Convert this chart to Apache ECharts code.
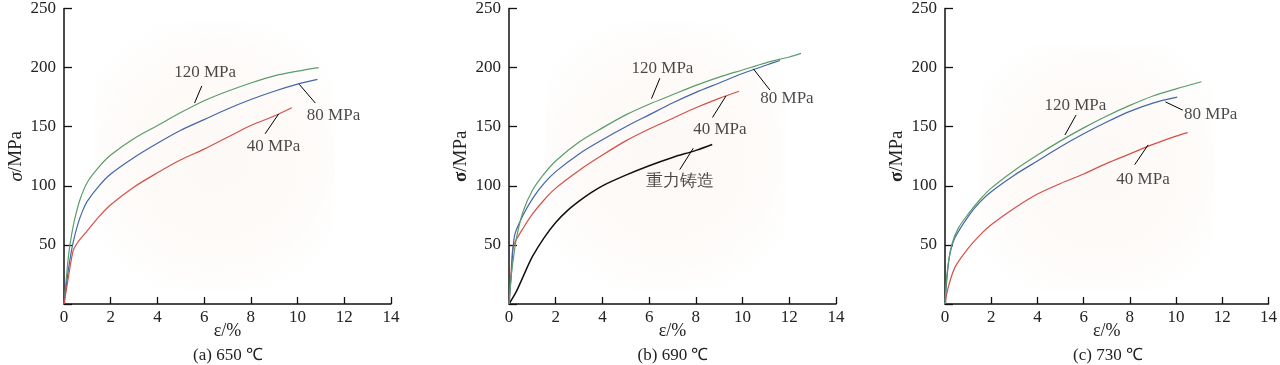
<!DOCTYPE html>
<html>
<head>
<meta charset="utf-8">
<script src="https://cdn.jsdelivr.net/npm/echarts@6/dist/echarts.min.js"></script>
<style>html,body{margin:0;padding:0;background:#fff;}#c{width:1280px;height:365px;}</style>
</head>
<body>
<div id="c"></div>
<script>
// ---- data (strain %, stress MPa) ----
const xTicks = [0, 2, 4, 6, 8, 10, 12, 14];
const yTicks = [0, 50, 100, 150, 200, 250];

// (a) 650 ℃
const a120x = [0, 0.1, 0.2, 0.32, 0.46, 0.68, 1.0, 1.5, 2, 3, 4, 5, 6, 7, 8, 9, 10, 10.9];
const a120y = [0, 22, 42, 58, 72, 88, 103, 116, 126, 140, 151, 162, 172, 180, 187, 193, 197, 200];
const a80x = [0, 0.1, 0.25, 0.39, 0.6, 0.8, 1.0, 1.5, 2, 3, 4, 5, 6, 7, 8, 9, 10, 10.85];
const a80y = [0, 16, 37, 52, 68, 79, 87, 100, 110, 124, 136, 147, 156, 165, 173, 180, 186, 190];
const a40x = [0, 0.1, 0.2, 0.39, 0.55, 0.7, 1.0, 1.5, 2, 3, 4, 5, 6, 7, 8, 9, 9.75];
const a40y = [0, 12, 24, 45, 51, 55, 62, 74, 84, 99, 111, 122, 131, 141, 151, 159, 166];

// (b) 690 ℃
const b120x = [0, 0.1, 0.17, 0.32, 0.6, 1.0, 1.5, 2, 3, 4, 5, 6, 7, 8, 9, 10, 11, 12, 12.5];
const b120y = [0, 25, 36, 56, 78, 96, 110, 121, 137, 149, 160, 169, 177, 185, 192, 198, 204, 209, 212];
const b80x = [0, 0.1, 0.24, 0.6, 1.0, 1.5, 2, 3, 4, 5, 6, 7, 8, 9, 10, 11, 11.6];
const b80y = [0, 25, 58, 75, 89, 102, 112, 127, 139, 150, 160, 170, 179, 187, 195, 202, 206];
const b40x = [0, 0.1, 0.17, 0.3, 0.6, 1.0, 1.5, 2, 3, 4, 5, 6, 7, 8, 9, 9.85];
const b40y = [0, 30, 48, 54, 64, 76, 88, 98, 113, 126, 138, 148, 157, 166, 174, 180];
const bGx = [0, 0.3, 0.6, 1.0, 1.5, 2, 2.5, 3, 3.5, 4, 5, 6, 7, 8, 8.7];
const bGy = [0, 10, 23, 40, 56, 69, 79, 87, 94, 100, 109, 117, 124, 130, 135];

// (c) 730 ℃
const c120x = [0, 0.1, 0.29, 0.57, 1.0, 1.5, 2, 3, 4, 5, 6, 7, 8, 9, 10, 11.1];
const c120y = [0, 28, 50, 64, 76, 88, 98, 113, 126, 138, 149, 159, 168, 176, 182, 188];
const c80x = [0, 0.1, 0.21, 0.43, 1.0, 1.5, 2, 3, 4, 5, 6, 7, 8, 9, 10.05];
const c80y = [0, 25, 42, 56, 74, 86, 95, 109, 121, 133, 144, 154, 163, 170, 175];
const c40x = [0, 0.14, 0.43, 1.0, 1.5, 2, 3, 4, 5, 6, 7, 8, 9, 10, 10.5];
const c40y = [0, 14, 31, 47, 58, 67, 81, 93, 102, 110, 119, 127, 135, 142, 145];

// annotation labels: [panel, text, x, y]
const noteText = [
  [0, '120 MPa', 6.04, 195.6], [0, '80 MPa', 11.54, 159.4], [0, '40 MPa', 8.97, 132.9],
  [1, '120 MPa', 6.57, 199.4], [1, '80 MPa', 11.9, 173.7], [1, '40 MPa', 9.03, 147.5], [1, '重力铸造', 7.34, 103.3],
  [2, '120 MPa', 5.64, 167.6], [2, '80 MPa', 11.5, 160], [2, '40 MPa', 8.57, 105]
];
// leader lines: [panel, x1, y1, x2, y2]
const noteLines = [
  [0, 5.9, 184.5, 5.59, 170], [0, 10.76, 170, 10.07, 185.9], [0, 8.61, 144, 9.19, 160.8],
  [1, 6.46, 191, 6.1, 173.7], [1, 11.17, 181, 10.46, 199], [1, 8.71, 157.8, 9.29, 176], [1, 7.31, 113.7, 7.89, 131.8],
  [2, 5.67, 159.8, 5.19, 143], [2, 10.29, 164, 9.54, 171], [2, 8.21, 117.9, 8.79, 134.6]
];
const captions = ['(a) 650 ℃', '(b) 690 ℃', '(c) 730 ℃'];

// ---- build ----
const FONT = '"Liberation Serif", "Times New Roman", serif';
const GREEN = '#5a9c6c', BLUE = '#4467a8', RED = '#d4504a', BLACK = '#111';
const grids = [
  {left: 64, top: 5, width: 327, height: 299},
  {left: 509, top: 5, width: 327, height: 299},
  {left: 945, top: 5, width: 327, height: 299}
];
const zip = (xs, ys) => xs.map((x, i) => [x, ys[i]]);
const curves = [
  [0, a120x, a120y, GREEN], [0, a80x, a80y, BLUE], [0, a40x, a40y, RED],
  [1, bGx, bGy, BLACK], [1, b40x, b40y, RED], [1, b80x, b80y, BLUE], [1, b120x, b120y, GREEN],
  [2, c40x, c40y, RED], [2, c80x, c80y, BLUE], [2, c120x, c120y, GREEN]
];
const series = [];
curves.forEach(([p, xs, ys, col]) => {
  series.push({type: 'line', xAxisIndex: p, yAxisIndex: p, data: zip(xs, ys), smooth: 0.3,
    showSymbol: false, silent: true,
    lineStyle: {color: col, width: col === BLACK ? 1.5 : 1.2}, z: 3});
});
noteLines.forEach(([p, x1, y1, x2, y2]) => {
  series.push({type: 'line', xAxisIndex: p, yAxisIndex: p, data: [[x1, y1], [x2, y2]],
    showSymbol: false, silent: true, lineStyle: {color: '#000', width: 1}, z: 4});
});
[0, 1, 2].forEach(p => {
  series.push({type: 'scatter', xAxisIndex: p, yAxisIndex: p, symbolSize: 0, silent: true, z: 5,
    data: noteText.filter(n => n[0] === p).map(n => ({value: [n[2], n[3]], name: n[1]})),
    label: {show: true, position: 'inside', formatter: d => d.name, color: '#1a1a1a',
      fontSize: 17, fontFamily: FONT}});
});

const axisLine = {show: true, lineStyle: {color: '#111', width: 1.5}};
const xAxes = grids.map((g, i) => ({
  type: 'value', gridIndex: i, min: 0, max: 14, interval: 2,
  name: 'ε/%', nameLocation: 'middle', nameGap: 18, nameMoveOverlap: false,
  nameTextStyle: {fontFamily: FONT, fontSize: 18, color: '#222'},
  axisLine, axisTick: {show: true, inside: true, length: 7, lineStyle: {color: '#111', width: 1.3}},
  axisLabel: {fontFamily: FONT, fontSize: 17, color: '#222', margin: 5,
    formatter: v => xTicks.includes(v) ? String(v) : ''},
  splitLine: {show: false}
}));
const yAxes = grids.map((g, i) => ({
  type: 'value', gridIndex: i, min: 0, max: 250, interval: 50,
  name: i === 0 ? '{si|σ}/MPa' : '{sb|σ}/MPa', nameLocation: 'middle', nameGap: 38,
  nameTextStyle: {fontFamily: FONT, fontSize: 19, color: '#222',
    rich: {si: {fontStyle: 'italic', fontFamily: FONT, fontSize: 19, color: '#222'},
           sb: {fontWeight: 'bold', fontFamily: FONT, fontSize: 19, color: '#222'}}},
  axisLine, axisTick: {show: true, inside: true, length: 8, lineStyle: {color: '#111', width: 1.3}},
  axisLabel: {fontFamily: FONT, fontSize: 17, color: '#222', margin: 8,
    formatter: v => (v === 0 || !yTicks.includes(v)) ? '' : String(v)},
  splitLine: {show: false}
}));

const blobs = [
  {x: 95, y: 22, w: 240, h: 268}, {x: 545, y: 22, w: 240, h: 268}, {x: 980, y: 45, w: 235, h: 245}
];
const graphic = [];
blobs.forEach(b => graphic.push({type: 'rect', z: -10, silent: true,
  shape: {x: b.x, y: b.y, width: b.w, height: b.h, r: 50},
  style: {fill: {type: 'radial', x: 0.5, y: 0.5, r: 0.7,
    colorStops: [{offset: 0, color: 'rgba(251,243,239,0.5)'}, {offset: 0.6, color: 'rgba(251,244,240,0.4)'},
                 {offset: 1, color: 'rgba(255,255,255,0)'}]}}}));
const capX = [228, 673, 1108];
captions.forEach((t, i) => graphic.push({type: 'text', x: capX[i], y: 356, silent: true,
  style: {text: t, fontFamily: FONT, fontSize: 17, fill: '#222', align: 'center', verticalAlign: 'middle'}}));

const chart = echarts.init(document.getElementById('c'), null, {renderer: 'canvas'});
chart.setOption({
  backgroundColor: '#fff', animation: false,
  grid: grids, xAxis: xAxes, yAxis: yAxes, series, graphic
});
</script>
</body>
</html>
